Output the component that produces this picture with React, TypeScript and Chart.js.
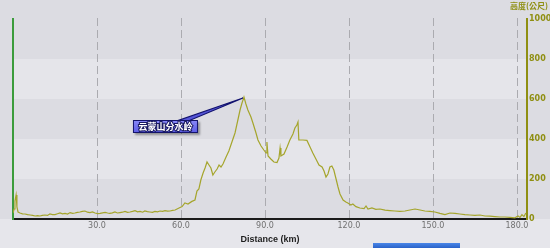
import React, { useEffect, useRef } from "react";
import { Chart, registerables } from "chart.js";

Chart.register(...registerables);

const distanceKm = [
  0, 0.4, 0.7, 1.1, 1.4, 1.8, 2.5, 3.4, 4.3, 5.2,
  6.1, 7.0, 7.9, 8.8, 9.6, 10.5, 11.4, 12.3, 13.2, 14.1,
  15.0, 15.9, 16.8, 17.7, 18.6, 19.5, 20.4, 21.3, 22.1, 23.0,
  23.9, 24.8, 25.7, 26.6, 27.5, 28.4, 29.3, 30.2, 31.1, 32.0,
  32.9, 33.8, 34.6, 35.5, 36.4, 37.3, 38.2, 39.1, 40.0, 40.9,
  41.8, 42.7, 43.6, 44.5, 45.4, 46.3, 47.1, 48.0, 48.9, 49.8,
  50.7, 51.6, 52.5, 53.4, 54.3, 55.2, 56.1, 57.0, 57.9, 59.3,
  60.4, 61.4, 62.5, 63.9, 65.0, 65.7, 66.4, 67.1, 67.9, 68.6,
  69.3, 70.0, 70.7, 71.4, 72.1, 72.9, 73.6, 74.3, 75.0, 76.1,
  77.1, 78.2, 79.3, 80.4, 81.1, 81.8, 82.5, 83.2, 83.9, 85.0,
  85.7, 86.8, 87.5, 88.6, 89.6, 90.4, 90.7, 91.1, 92.1, 93.2,
  94.3, 95.0, 95.4, 95.7, 96.8, 97.9, 98.9, 100.0, 100.7, 101.4,
  101.8, 102.1, 103.6, 105.0, 106.1, 107.1, 108.2, 109.3, 110.4, 111.1,
  111.8, 112.5, 113.2, 113.9, 114.6, 115.4, 116.1, 116.8, 117.9, 118.9,
  119.6, 120.7, 121.4, 122.5, 123.9, 125.4, 126.1, 126.8, 128.2, 129.6,
  131.1, 132.9, 134.6, 136.4, 138.2, 140.0, 141.8, 143.6, 145.4, 147.1,
  148.9, 150.7, 152.5, 154.3, 156.1, 157.9, 159.6, 161.4, 163.2, 165.0,
  166.8, 168.6, 170.4, 172.1, 173.9, 175.7, 177.5, 179.3, 180.4, 181.1,
  181.8, 182.5, 183.2,
];

const elevationM = [
  30, 50, 90, 120, 60, 35, 30, 26, 25, 22,
  20, 18, 15, 17, 15, 18, 20, 18, 25, 22,
  22, 26, 30, 26, 28, 25, 32, 28, 30, 33,
  35, 38, 40, 34, 32, 35, 30, 27, 28, 31,
  33, 30, 28, 31, 35, 30, 32, 34, 38, 33,
  35, 38, 42, 36, 38, 34, 40, 37, 35, 33,
  38, 36, 40, 38, 42, 39, 40, 43, 45, 55,
  62, 80, 75, 88, 95, 140, 150, 195, 230, 255,
  285, 270, 255, 220, 235, 250, 270, 260, 275, 310,
  340, 385, 430, 500, 545, 580, 610, 575, 545, 510,
  480, 430, 395, 365, 345, 330, 385, 315, 300, 285,
  282, 305, 355, 315, 325, 360, 395, 425, 455, 470,
  485, 395, 395, 393, 360, 330, 300, 270, 260, 240,
  210, 225, 260, 265, 245, 200, 160, 125, 95, 85,
  80, 70, 75, 62, 55, 52, 65, 50, 55, 48,
  50, 44, 42, 40, 38, 40, 45, 50, 45, 40,
  38, 35, 28, 22, 30, 28, 25, 22, 20, 18,
  20, 15, 14, 12, 10, 10, 8, 6, 15, 8,
  22, 12, 30,
];

const xTicks = [30, 60, 90, 120, 150, 180];
const yTicks = [0, 200, 400, 600, 800, 1000];
const xMax = 183.6;
const yMax = 1000;
const xTitle = "Distance (km)";
const yTitle = "高度(公尺)";
const peakLabel = "云蒙山分水岭";

const LINE = "#a5a52c";
const OLIVE = "#8f8f12";

const bgPlugin = {
  id: "bgBands",
  beforeDraw(chart: any) {
    const { ctx, chartArea, width, height } = chart;
    const y = chart.scales.y;
    ctx.save();
    ctx.fillStyle = "#dcdce2";
    ctx.fillRect(0, 0, width, height);
    ctx.fillStyle = "#e6e6eb";
    ctx.fillRect(0, chartArea.bottom, width, height - chartArea.bottom);
    for (let i = 0; i < yTicks.length - 1; i++) {
      if (i % 2 === 1) {
        const t = y.getPixelForValue(yTicks[i + 1]);
        const b = y.getPixelForValue(yTicks[i]);
        ctx.fillStyle = "#e5e5ea";
        ctx.fillRect(chartArea.left, t, chartArea.right - chartArea.left, b - t);
      }
    }
    ctx.restore();
  },
  beforeDatasetsDraw(chart: any) {
    const { ctx, chartArea } = chart;
    const x = chart.scales.x;
    ctx.save();
    ctx.strokeStyle = "#ababb0";
    ctx.lineWidth = 1;
    ctx.setLineDash([8, 4]);
    xTicks.forEach((v) => {
      const px = Math.round(x.getPixelForValue(v)) + 0.5;
      ctx.beginPath();
      ctx.moveTo(px, chartArea.top - 1);
      ctx.lineTo(px, chartArea.bottom);
      ctx.stroke();
    });
    ctx.restore();
    // right axis title
    ctx.save();
    ctx.fillStyle = OLIVE;
    ctx.font = "bold 8px 'Noto Sans CJK TC'";
    ctx.textAlign = "right";
    ctx.textBaseline = "middle";
    ctx.fillText(yTitle, chart.width - 2, 6);
    ctx.restore();
  },
  afterDatasetsDraw(chart: any) {
    const { ctx } = chart;
    const x = chart.scales.x;
    const y = chart.scales.y;
    let pi = 0;
    elevationM.forEach((v, i) => {
      if (v > elevationM[pi]) pi = i;
    });
    const px = x.getPixelForValue(distanceKm[pi]);
    const py = y.getPixelForValue(elevationM[pi]);
    ctx.save();
    // pointer wedge
    ctx.beginPath();
    ctx.moveTo(px - 70, py + 25);
    ctx.lineTo(px - 58, py + 25);
    ctx.lineTo(px - 1, py + 1);
    ctx.closePath();
    ctx.fillStyle = "#5656d8";
    ctx.fill();
    ctx.strokeStyle = "#12126e";
    ctx.lineWidth = 1.2;
    ctx.stroke();
    // box
    const bx = px - 111;
    const by = py + 23;
    const bw = 65;
    const bh = 13;
    ctx.shadowColor = "rgba(0,0,0,0.35)";
    ctx.shadowOffsetX = 2;
    ctx.shadowOffsetY = 2;
    ctx.shadowBlur = 2;
    const g = ctx.createLinearGradient(0, by, 0, by + bh);
    g.addColorStop(0, "#8a8af8");
    g.addColorStop(1, "#5a5ae6");
    ctx.fillStyle = g;
    ctx.fillRect(bx, by, bw, bh);
    ctx.shadowColor = "transparent";
    ctx.strokeStyle = "#14146a";
    ctx.lineWidth = 1;
    ctx.strokeRect(bx + 0.5, by + 0.5, bw - 1, bh - 1);
    ctx.fillStyle = "#ffffff";
    ctx.font = "bold 9px 'Noto Sans CJK SC'";
    ctx.textAlign = "center";
    ctx.textBaseline = "middle";
    ctx.lineWidth = 2;
    ctx.strokeStyle = "#1a1a60";
    ctx.strokeText(peakLabel, bx + bw / 2, by + bh / 2 + 0.5);
    ctx.fillText(peakLabel, bx + bw / 2, by + bh / 2 + 0.5);
    ctx.restore();
  },
};

export default function App() {
  const ref = useRef<HTMLCanvasElement>(null);
  useEffect(() => {
    if (!ref.current) return;
    const chart = new Chart(ref.current, {
      type: "line",
      data: {
        datasets: [
          {
            data: distanceKm.map((d, i) => ({ x: d, y: elevationM[i] })),
            borderColor: LINE,
            borderWidth: 1.2,
            pointRadius: 0,
            tension: 0,
            fill: false,
            yAxisID: "y",
          },
        ],
      },
      options: {
        animation: false,
        responsive: false,
        devicePixelRatio: 1,
        layout: { padding: { top: 19, left: 0, right: 0, bottom: 0 } },
        plugins: { legend: { display: false }, tooltip: { enabled: false } },
        scales: {
          x: {
            type: "linear",
            position: "bottom",
            min: 0,
            max: xMax,
            afterBuildTicks: (s: any) => {
              s.ticks = xTicks.map((v) => ({ value: v }));
            },
            afterFit: (s: any) => {
              s.height = 29;
            },
            grid: { display: false, drawTicks: false },
            border: { display: true, color: "#1a1a1a", width: 2 },
            ticks: {
              autoSkip: false,
              maxRotation: 0,
              padding: 2,
              color: "#707070",
              font: { family: "'DejaVu Sans'", size: 8 },
              callback: (v: any) => Number(v).toFixed(1),
            },
            title: {
              display: true,
              text: xTitle,
              color: "#1e1e1e",
              font: { family: "'Liberation Sans'", size: 9, weight: "bold" },
              padding: { top: 0, bottom: 3 },
            },
          },
          y: {
            position: "left",
            min: 0,
            max: yMax,
            afterFit: (s: any) => {
              s.width = 13;
            },
            grid: { display: false, drawTicks: false },
            border: { display: true, color: "#3c9c3c", width: 2 },
            ticks: { display: false },
          },
          y2: {
            position: "right",
            min: 0,
            max: yMax,
            afterBuildTicks: (s: any) => {
              s.ticks = yTicks.map((v) => ({ value: v }));
            },
            afterFit: (s: any) => {
              s.width = 23;
            },
            grid: { display: false, drawTicks: false },
            border: { display: true, color: OLIVE, width: 2 },
            ticks: {
              padding: 2,
              color: OLIVE,
              font: { family: "'DejaVu Sans'", size: 8, weight: "bold" },
              callback: (v: any) => String(v),
            },
          },
        },
      },
      plugins: [bgPlugin],
    } as any);
    return () => chart.destroy();
  }, []);
  return (
    <div style={{ position: "fixed", left: 0, top: 0, width: 550, height: 248, overflow: "hidden" }}>
      <canvas ref={ref} width={550} height={248} style={{ display: "block" }} />
      <div
        style={{
          position: "absolute",
          left: 373,
          top: 243,
          width: 87,
          height: 5,
          background: "linear-gradient(#4a86e8, #2a62c8)",
        }}
      />
    </div>
  );
}
